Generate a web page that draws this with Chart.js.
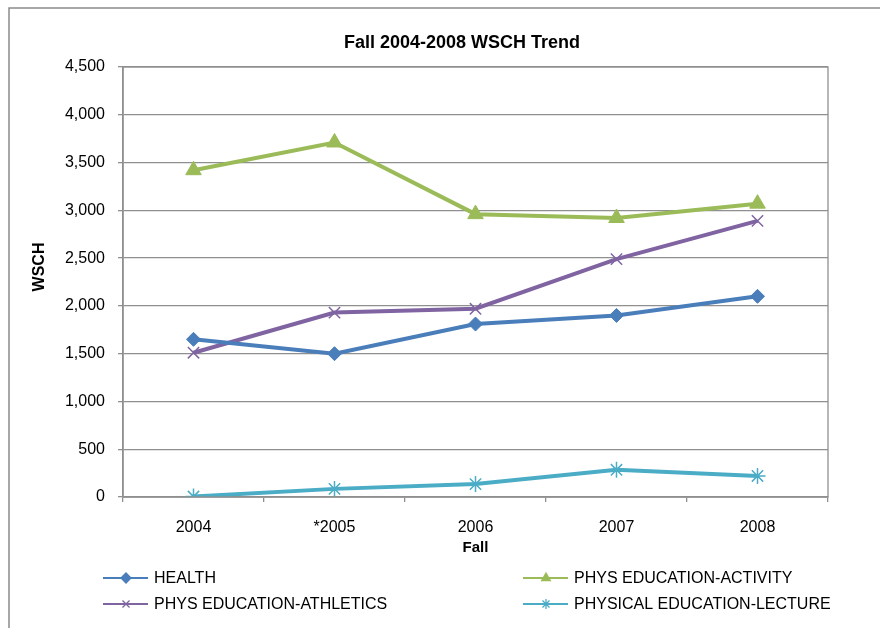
<!DOCTYPE html>
<html>
<head>
<meta charset="utf-8">
<script src="https://cdn.jsdelivr.net/npm/chart.js@4/dist/chart.umd.min.js"></script>
<style>
  html, body { margin: 0; padding: 0; background: #fff; }
  #wrap { width: 880px; height: 628px; }
</style>
</head>
<body>
<div id="wrap"><canvas id="wschChart" width="880" height="628"></canvas></div>
<script>
// data
const years = ['2004', '*2005', '2006', '2007', '2008'];
const health = [1650, 1500, 1810, 1900, 2100];
const physActivity = [3420, 3710, 2960, 2920, 3070];
const physAthletics = [1510, 1930, 1970, 2490, 2890];
const physLecture = [5, 85, 135, 285, 220];
const yTicks = [0, 500, 1000, 1500, 2000, 2500, 3000, 3500, 4000, 4500];

const FONT = 'Liberation Sans, Arial, sans-serif';
const GRID = '#8f8f8f';

const series = [
  { label: 'HEALTH', data: health, color: '#4a7ebb', style: 'rectRot', r: 7 },
  { label: 'PHYS EDUCATION-ACTIVITY', data: physActivity, color: '#9bbb59', style: 'triangle', r: 9 },
  { label: 'PHYS EDUCATION-ATHLETICS', data: physAthletics, color: '#8064a2', style: 'crossRot', r: 8 },
  { label: 'PHYSICAL EDUCATION-LECTURE', data: physLecture, color: '#4bacc6', style: 'star', r: 8 }
];

// frame, titles, plot border and the 2x2 legend
const decor = {
  id: 'decor',
  afterDraw(chart) {
    const ctx = chart.ctx;
    const a = chart.chartArea;
    ctx.save();
    // outer frame (only top + left edges are visible)
    ctx.strokeStyle = '#8a8a8a';
    ctx.lineWidth = 1.5;
    ctx.beginPath();
    ctx.moveTo(9, 640);
    ctx.lineTo(9, 8);
    ctx.lineTo(890, 8);
    ctx.stroke();
    // plot border
    ctx.strokeStyle = GRID;
    ctx.lineWidth = 1.3;
    ctx.strokeRect(a.left, a.top, a.right - a.left, a.bottom - a.top);

    ctx.fillStyle = '#000';
    ctx.textAlign = 'center';
    ctx.textBaseline = 'middle';
    ctx.font = 'bold 18px ' + FONT;
    ctx.fillText('Fall 2004-2008 WSCH Trend', 462, 43);

    ctx.save();
    ctx.translate(40, 267);
    ctx.rotate(-Math.PI / 2);
    ctx.font = 'bold 16px ' + FONT;
    ctx.fillText('WSCH', 0, 0);
    ctx.restore();

    // legend
    const cols = [103, 523];
    const rows = [578, 604];
    ctx.font = '16px ' + FONT;
    ctx.textAlign = 'left';
    series.forEach((s, i) => {
      const x = cols[i % 2];
      const y = rows[Math.floor(i / 2)];
      ctx.strokeStyle = s.color;
      ctx.fillStyle = s.color;
      ctx.lineWidth = 2;
      ctx.beginPath();
      ctx.moveTo(x, y);
      ctx.lineTo(x + 45, y);
      ctx.stroke();
      ctx.lineWidth = 1.3;
      Chart.helpers.drawPoint(ctx, { pointStyle: s.style, radius: 5, borderWidth: 1.3, rotation: 0 }, x + 23, y);
      ctx.fillStyle = '#000';
      ctx.fillText(s.label, x + 51, y + 1);
    });
    ctx.restore();
  }
};

new Chart(document.getElementById('wschChart'), {
  type: 'line',
  data: {
    labels: years,
    datasets: series.map(s => ({
      label: s.label,
      data: s.data,
      borderColor: s.color,
      backgroundColor: s.color,
      borderWidth: 4,
      pointStyle: s.style,
      pointRadius: s.r,
      pointBorderWidth: s.style === 'crossRot' || s.style === 'star' ? 1.5 : 1,
      pointBorderColor: s.color,
      pointBackgroundColor: s.color,
      tension: 0,
      fill: false
    }))
  },
  options: {
    responsive: false,
    animation: false,
    layout: { padding: { top: 67, right: 52, bottom: 68, left: 0 } },
    plugins: {
      legend: { display: false },
      title: { display: false },
      tooltip: { enabled: false }
    },
    scales: {
      x: {
        offset: true,
        grid: { display: true, drawOnChartArea: false, offset: true, tickLength: 5, color: GRID, lineWidth: 1.3 },
        border: { color: GRID, width: 1.5 },
        ticks: { color: '#000', font: { family: FONT, size: 16 }, padding: 16 },
        title: { display: true, text: 'Fall', color: '#000', font: { family: FONT, size: 15, weight: 'bold' }, padding: { top: 0, bottom: 3 } },
        afterFit(scale) { scale.height = 63; }
      },
      y: {
        min: 0,
        max: 4500,
        afterBuildTicks(scale) { scale.ticks = yTicks.map(v => ({ value: v })); },
        grid: { color: GRID, lineWidth: 1.3, tickLength: 5 },
        border: { color: GRID, width: 1.5 },
        ticks: {
          color: '#000',
          font: { family: FONT, size: 16 },
          padding: 13,
          callback: v => v.toLocaleString('en-US')
        },
        afterFit(scale) { scale.width = 123; }
      }
    }
  },
  plugins: [decor]
});
</script>
</body>
</html>
